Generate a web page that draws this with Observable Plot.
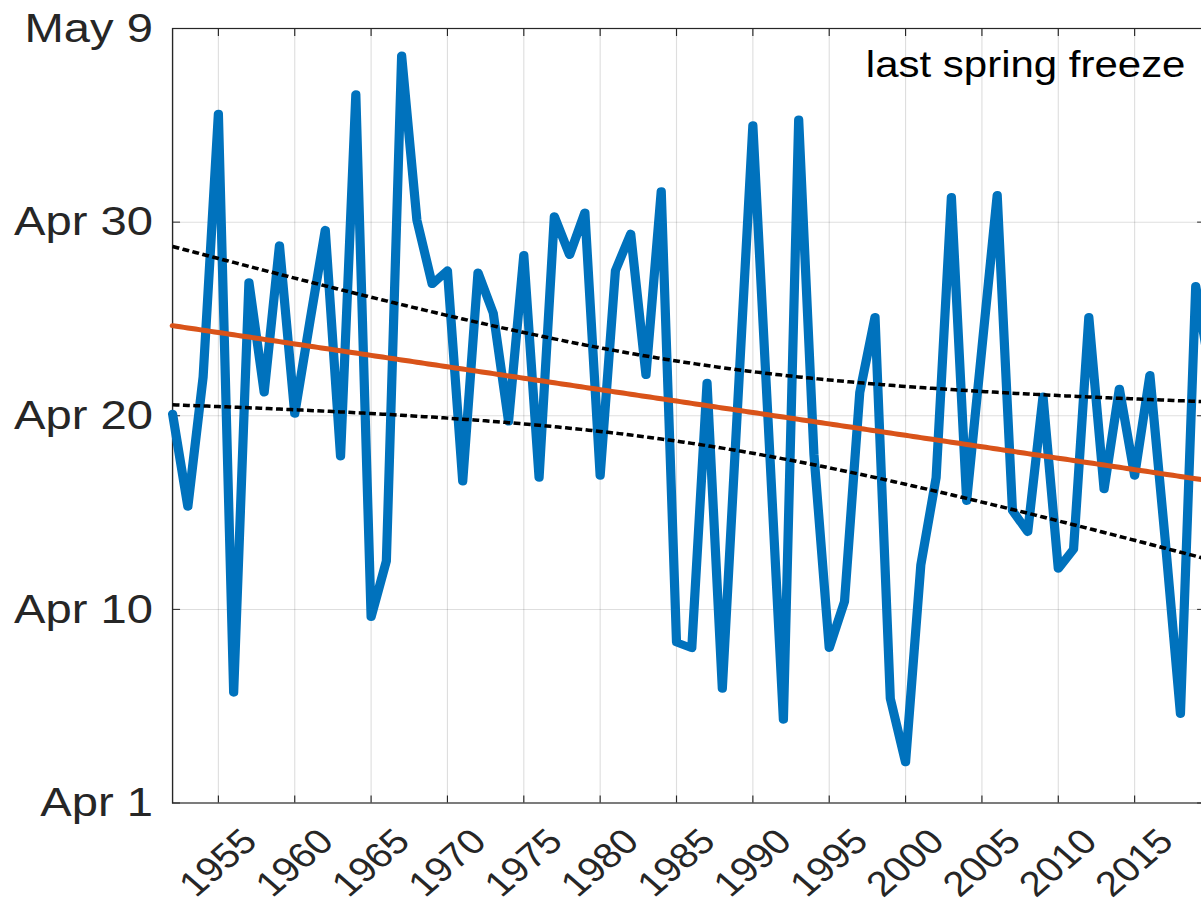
<!DOCTYPE html>
<html><head><meta charset="utf-8">
<script src="https://cdn.jsdelivr.net/npm/d3@7"></script>
<script src="https://cdn.jsdelivr.net/npm/@observablehq/plot@0.6"></script>
<style>
html,body{margin:0;padding:0;background:#fff;overflow:hidden}
#chart svg{display:block}
</style></head><body><div id="chart"></div>
<script>
// ---- data (day of year; 90 = Apr 1, 130 = May 9 label) ----
const years = [1952,1953,1954,1955,1956,1957,1958,1959,1960,1961,1962,1963,1964,1965,1966,1967,1968,1969,1970,1971,1972,1973,1974,1975,1976,1977,1978,1979,1980,1981,1982,1983,1984,1985,1986,1987,1988,1989,1990,1991,1992,1993,1994,1995,1996,1997,1998,1999,2000,2001,2002,2003,2004,2005,2006,2007,2008,2009,2010,2011,2012,2013,2014,2015,2016,2017,2018,2019,2020];
const freezeDay = [110.1,105.3,112.0,125.6,95.7,116.9,111.2,118.8,110.1,114.9,119.6,107.9,126.6,99.6,102.5,128.6,120.1,116.8,117.5,106.6,117.4,115.3,109.7,118.3,106.8,120.3,118.3,120.5,106.9,117.5,119.4,112.1,121.6,98.3,98.0,111.7,95.9,110.5,125.0,109.7,94.3,125.3,108.0,98.0,100.4,111.2,115.1,95.4,92.1,102.3,106.8,121.3,105.6,113.5,121.4,105.1,104.0,111.0,102.1,103.1,115.1,106.2,111.4,106.9,112.1,103.6,94.6,116.7,112.0];
const yTickValues = [90,100,110,120,130];
const yTickLabels = ["Apr 1","Apr 10","Apr 20","Apr 30","May 9"];
const xTickValues = [1955,1960,1965,1970,1975,1980,1985,1990,1995,2000,2005,2010,2015];
const annotation = ["last spring freeze"];
const tCrit = 1.996; // 95% two-sided, df ≈ 67

// ---- derived: least-squares fit and 95% confidence band of the mean ----
const data = years.map((year, i) => ({year, day: freezeDay[i]}));
const n = data.length;
const xbar = d3.mean(years), ybar = d3.mean(freezeDay);
const Sxx = d3.sum(years, x => (x - xbar) ** 2);
const Sxy = d3.sum(data, d => (d.year - xbar) * (d.day - ybar));
const slope = Sxy / Sxx, intercept = ybar - slope * xbar;
const sse = d3.sum(data, d => (d.day - (intercept + slope * d.year)) ** 2);
const se = Math.sqrt(sse / (n - 2));
const fit = d3.range(1952, 2020.01, 0.25).map(x => {
  const yhat = intercept + slope * x;
  const hw = tCrit * se * Math.sqrt(1 / n + (x - xbar) ** 2 / Sxx);
  return {year: x, fit: yhat, lo: yhat - hw, hi: yhat + hw};
});

// ---- layout (drawn at a narrower internal width, shown stretched like the original) ----
const W_OUT = 1201, H = 914, W = 1044;
const sx = W_OUT / W;
const font = "'Liberation Sans', Arial, Helvetica, sans-serif";

const plot = Plot.plot({
  width: W, height: H,
  marginLeft: 172 / sx, marginRight: W - 1204 / sx, marginTop: 28, marginBottom: H - 802.5,
  x: {domain: [1952, 2019.58], label: null},
  y: {domain: [90, 130], label: null},
  style: {fontFamily: font, color: "#262626", background: "#fff", overflow: "hidden"},
  marks: [
    Plot.gridX(xTickValues, {stroke: "#000", strokeOpacity: 0.13, strokeWidth: 1}),
    Plot.gridY([100, 110, 120], {stroke: "#000", strokeOpacity: 0.13, strokeWidth: 1}),
    Plot.frame({stroke: "#262626", strokeWidth: 1.2}),
    Plot.axisX(xTickValues, {anchor: "bottom", tickSize: -7, tickFormat: () => "", label: null}),
    Plot.axisX(xTickValues, {anchor: "top", tickSize: -7, tickFormat: () => "", label: null}),
    Plot.axisY(yTickValues, {anchor: "left", tickSize: -7, tickFormat: () => "", label: null}),
    Plot.axisY(yTickValues, {anchor: "right", tickSize: -7, tickFormat: () => "", label: null}),
    Plot.axisX(xTickValues, {anchor: "bottom", tickSize: 0, tickPadding: 60, tickRotate: -45,
      textAnchor: "middle", lineAnchor: "middle", fontSize: 35, fill: "#262626",
      tickFormat: d => String(d), label: null}),
    Plot.axisY(yTickValues, {anchor: "left", tickSize: 0, tickPadding: 17, fontSize: 41, fill: "#262626",
      tickFormat: d => yTickLabels[yTickValues.indexOf(d)], label: null}),
    Plot.line(data, {x: "year", y: "day", stroke: "#0072BD", strokeWidth: 8,
      strokeLinejoin: "round", strokeLinecap: "round"}),
    Plot.line(fit, {x: "year", y: "fit", stroke: "#D95319", strokeWidth: 5}),
    Plot.line(fit, {x: "year", y: "hi", stroke: "#000", strokeWidth: 3.5, strokeDasharray: "6,3", strokeLinecap: "butt"}),
    Plot.line(fit, {x: "year", y: "lo", stroke: "#000", strokeWidth: 3.5, strokeDasharray: "6,3", strokeLinecap: "butt"}),
    Plot.text(annotation, {text: d => d, frameAnchor: "top-right", dx: -16.6, dy: 37,
      textAnchor: "end", lineAnchor: "middle", fontSize: 36.5, fill: "#000"})
  ]
});
plot.setAttribute("viewBox", `0 0 ${W} ${H}`);
plot.setAttribute("width", W_OUT);
plot.setAttribute("height", H);
plot.setAttribute("preserveAspectRatio", "none");
plot.style.width = W_OUT + "px";
plot.style.height = H + "px";
plot.style.maxWidth = "none";
document.getElementById("chart").appendChild(plot);
</script></body></html>
